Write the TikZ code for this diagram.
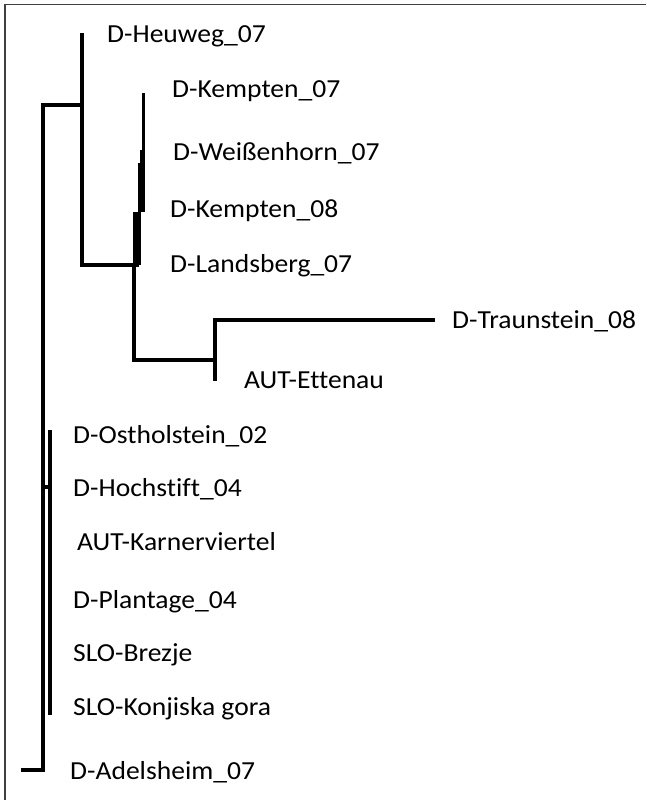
\documentclass[tikz,border=0pt]{standalone}
\usepackage{fontspec}
\setmainfont{Carlito}[Ligatures=NoCommon, FakeStretch=1.06]
\tikzset{
  branch/.style={line width=3.4pt, line cap=rect, line join=miter},
  leaf/.style={anchor=west, inner sep=0pt, font=\fontsize{26}{28}\selectfont},
  frameline/.style={draw=black!75, line width=1.6pt}
}
\begin{document}
\begin{tikzpicture}[x=1pt,y=-1pt]
\useasboundingbox (0,0) rectangle (646,800);
% frame along top and left edges
\coordinate (fl) at (5,800);
\coordinate (fc) at (5,4.5);
\coordinate (fr) at (646,4.5);
\draw[frameline] (fl) -- (fc) -- (fr);

% leaf labels
\node[leaf] (heu)  at (107,36)  {D-Heuweg\_07};
\node[leaf] (kem7) at (172,91)  {D-Kempten\_07};
\node[leaf] (wei)  at (173,153) {D-Weißenhorn\_07};
\node[leaf] (kem8) at (170,211) {D-Kempten\_08};
\node[leaf] (lan)  at (170,266) {D-Landsberg\_07};
\node[leaf] (tra)  at (452,321) {D-Traunstein\_08};
\node[leaf] (ett)  at (244,380) {AUT-Ettenau};
\node[leaf] (ost)  at (73,436)  {D-Ostholstein\_02};
\node[leaf] (hoc)  at (73,489)  {D-Hochstift\_04};
\node[leaf] (kar)  at (77,542)  {AUT-Karnerviertel};
\node[leaf] (pla)  at (73,602)  {D-Plantage\_04};
\node[leaf] (bre)  at (73,655)  {SLO-Brezje};
\node[leaf] (kon)  at (73,709)  {SLO-Konjiska gora};
\node[leaf] (ade)  at (70,772)  {D-Adelsheim\_07};

% internal vertices
\coordinate (root)  at (43,105);
\coordinate (rootb) at (43,770);
\coordinate (adel)  at (23,770);
\coordinate (a1)    at (82,105);
\coordinate (a1t)   at (82,35);
\coordinate (a1b)   at (82,265);
\coordinate (k0)    at (137,265);
\coordinate (k1)    at (137,212);
\coordinate (k2)    at (141.7,212);
\coordinate (k3)    at (141.7,163);
\coordinate (k4)    at (142.5,163);
\coordinate (k5)    at (142.5,150);
\coordinate (k6)    at (143.3,150);
\coordinate (k7)    at (143.3,93);
\coordinate (t0)    at (134,265);
\coordinate (t1)    at (134,360);
\coordinate (t2)    at (215,360);
\coordinate (t3)    at (215,320);
\coordinate (t4)    at (215,379);
\coordinate (t5)    at (433,320);
\coordinate (g0)    at (43,487);
\coordinate (g1)    at (50,487);
\coordinate (g2)    at (50,432);
\coordinate (g3)    at (50,713);

% backbone
\draw[branch] (adel) -- (rootb) -- (root) -- (a1);
\draw[branch] (a1t) -- (a1b) -- (k0);
% Kempten / Landsberg cluster, widening downwards
\draw[line width=8.4pt] (k0) -- (k1);
\draw[line width=6.7pt] (k2) -- (k3);
\draw[line width=5pt] (k4) -- (k5);
\draw[line width=3.3pt] (k6) -- (k7);
% Traunstein / Ettenau clade
\draw[branch] (t0) -- (t1) -- (t2);
\draw[branch] (t4) -- (t3) -- (t5);
% lower polytomy
\draw[branch] (g0) -- (g1);
\draw[branch] (g2) -- (g3);
\end{tikzpicture}
\end{document}
